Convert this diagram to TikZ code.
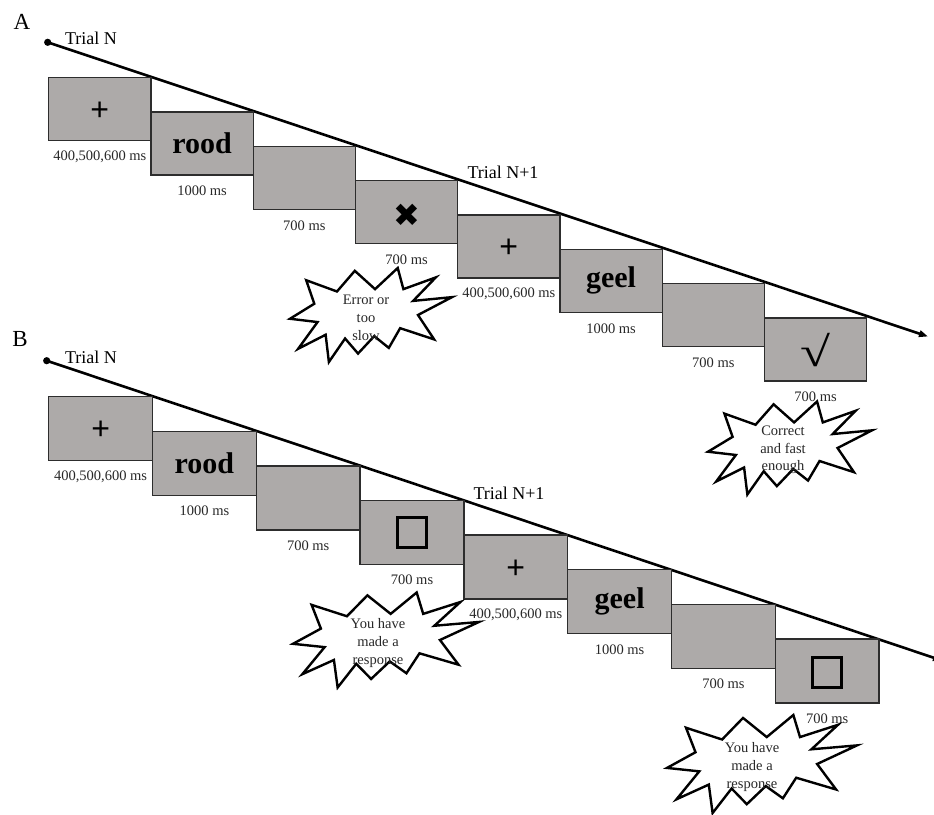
\documentclass[tikz,border=0pt]{standalone}
\usepackage{fontspec}
\setmainfont{Liberation Serif}
\newfontfamily\symfont{DejaVu Sans}
\newfontfamily\plusfont{Liberation Sans}
\usetikzlibrary{arrows.meta}
\definecolor{boxgray}{RGB}{173,170,169}
\definecolor{edgegray}{RGB}{45,45,45}
\definecolor{txtgray}{RGB}{40,40,40}
\tikzset{
  stimA/.style={draw=edgegray, line width=1.4pt, fill=boxgray, anchor=north west,
    inner sep=0pt, minimum width=102.25pt, minimum height=63pt},
  stimB/.style={draw=edgegray, line width=1.4pt, fill=boxgray, anchor=north west,
    inner sep=0pt, minimum width=103.8pt, minimum height=64pt},
  dur/.style={font=\fontsize{14.5}{17}\selectfont, text=txtgray, inner sep=0pt},
  trial/.style={font=\fontsize{18}{20}\selectfont, inner sep=0pt},
  panel/.style={font=\fontsize{23}{25}\selectfont, inner sep=0pt},
  timeline/.style={line width=2.6pt, -{Triangle[length=9pt,width=6.5pt]}},
  burst/.style={draw=black, fill=white, line width=2.4pt, line join=miter},
  bursttext/.style={font=\fontsize{14.5}{17.7}\selectfont, text=txtgray, align=center, inner sep=0pt},
  word/.style={font=\fontsize{30}{32}\selectfont\bfseries},
  plus/.style={font=\plusfont\fontsize{32}{32}\selectfont},
  respsq/.style={draw=black, line width=3pt}
}
\newcommand\burstpath{(0.33,-1.0) -- (0.40,-0.55) -- (0.80,-0.80) -- (0.52,-0.30) -- (1.0,-0.38) -- (0.58,0.0) -- (0.78,0.52) -- (0.36,0.28) -- (0.22,0.70) -- (0.04,0.45) -- (-0.16,0.82) -- (-0.32,0.50) -- (-0.52,1.0) -- (-0.56,0.42) -- (-0.90,0.72) -- (-0.66,0.15) -- (-1.0,0.08) -- (-0.70,-0.24) -- (-0.80,-0.74) -- (-0.42,-0.50) -- (-0.20,-0.94) -- (0.05,-0.55) -- cycle}
\begin{document}
\begin{tikzpicture}[x=1pt,y=-1pt]
\useasboundingbox (0,0) rectangle (934,814);
% ---------------- Panel A ----------------
\node[panel] (labA) at (22,22) {A};
\coordinate (astart) at (47.7,42.3);
\coordinate (aend) at (928,336.5);
\draw[timeline] (astart) -- (aend);
\fill (astart) circle (3.6);
\node[trial] (atrialN) at (91,38) {Trial N};
\node[trial] (atrialN1) at (503,172) {Trial N+1};

\node[stimA] (a1) at (48.00, 77.0) {};
\node[stimA] (a2) at (150.25,111.3) {};
\node[stimA] (a3) at (252.50,145.6) {};
\node[stimA] (a4) at (354.75,179.9) {};
\node[stimA] (a5) at (457.00,214.2) {};
\node[stimA] (a6) at (559.25,248.5) {};
\node[stimA] (a7) at (661.50,282.8) {};
\node[stimA] (a8) at (763.75,317.1) {};

\node[plus] (a1s) at ([yshift=-2pt]a1.center) {+};
\node[word] (a2s) at (a2.center) {rood};
\node[font=\symfont\fontsize{32}{32}\selectfont] (a4s) at ([yshift=-3pt]a4.center) {✖};
\node[plus] (a5s) at ([yshift=-2pt]a5.center) {+};
\node[word] (a6s) at (a6.center) {geel};
\node[font=\fontsize{42}{42}\selectfont] (a8s) at ([yshift=-1pt]a8.center) {\scalebox{1.3}[1]{√}};

\node[dur] (a1d) at ([yshift=-15.5pt]a1.south) {400,500,600 ms};
\node[dur] (a2d) at ([yshift=-15.5pt]a2.south) {1000 ms};
\node[dur] (a3d) at ([yshift=-15.5pt]a3.south) {700 ms};
\node[dur] (a4d) at ([yshift=-15.5pt]a4.south) {700 ms};
\node[dur] (a5d) at ([yshift=-15.5pt]a5.south) {400,500,600 ms};
\node[dur] (a6d) at ([yshift=-15.5pt]a6.south) {1000 ms};
\node[dur] (a7d) at ([yshift=-15.5pt]a7.south) {700 ms};
\node[dur] (a8d) at ([yshift=-15.5pt]a8.south) {700 ms};

\draw[burst, shift={(371,315)}, xscale=81, yscale=47] \burstpath;
\node[bursttext] (aerr) at (366,318) {Error or\\too\\slow};
\draw[burst, shift={(790,448)}, xscale=82, yscale=46.5] \burstpath;
\node[bursttext] (acor) at (783,450) {Correct\\and fast\\enough};

% ---------------- Panel B ----------------
\node[panel] (labB) at (20,339) {B};
\coordinate (bstart) at (46.7,360.7);
\coordinate (bend) at (942,660.5);
\draw[timeline] (bstart) -- (bend);
\fill (bstart) circle (3.6);
\node[trial] (btrialN) at (91,357) {Trial N};
\node[trial] (btrialN1) at (509,493) {Trial N+1};

\node[stimB] (b1) at (48.0,396.0) {};
\node[stimB] (b2) at (151.8,430.6) {};
\node[stimB] (b3) at (255.6,465.2) {};
\node[stimB] (b4) at (359.4,499.8) {};
\node[stimB] (b5) at (463.2,534.4) {};
\node[stimB] (b6) at (567.0,569.0) {};
\node[stimB] (b7) at (670.8,603.6) {};
\node[stimB] (b8) at (774.6,638.2) {};

\node[plus] (b1s) at ([yshift=-2pt]b1.center) {+};
\node[word] (b2s) at (b2.center) {rood};
\node[respsq, minimum width=29pt, minimum height=30pt, inner sep=0pt] (b4s) at (b4.center) {};
\node[plus] (b5s) at ([yshift=-2pt]b5.center) {+};
\node[word] (b6s) at (b6.center) {geel};
\node[respsq, minimum width=29pt, minimum height=30pt, inner sep=0pt] (b8s) at ([yshift=-2pt]b8.center) {};

\node[dur] (b1d) at ([yshift=-15pt]b1.south) {400,500,600 ms};
\node[dur] (b2d) at ([yshift=-15pt]b2.south) {1000 ms};
\node[dur] (b3d) at ([yshift=-15pt]b3.south) {700 ms};
\node[dur] (b4d) at ([yshift=-15pt]b4.south) {700 ms};
\node[dur] (b5d) at ([yshift=-15pt]b5.south) {400,500,600 ms};
\node[dur] (b6d) at ([yshift=-15pt]b6.south) {1000 ms};
\node[dur] (b7d) at ([yshift=-15pt]b7.south) {700 ms};
\node[dur] (b8d) at ([yshift=-15pt]b8.south) {700 ms};

\draw[burst, shift={(386,640)}, xscale=93, yscale=47.5] \burstpath;
\node[bursttext] (bresp1) at (378,643) {You have\\made a\\response};
\draw[burst, shift={(762,764)}, xscale=95, yscale=49] \burstpath;
\node[bursttext] (bresp2) at (752,767) {You have\\made a\\response};
\end{tikzpicture}
\end{document}
